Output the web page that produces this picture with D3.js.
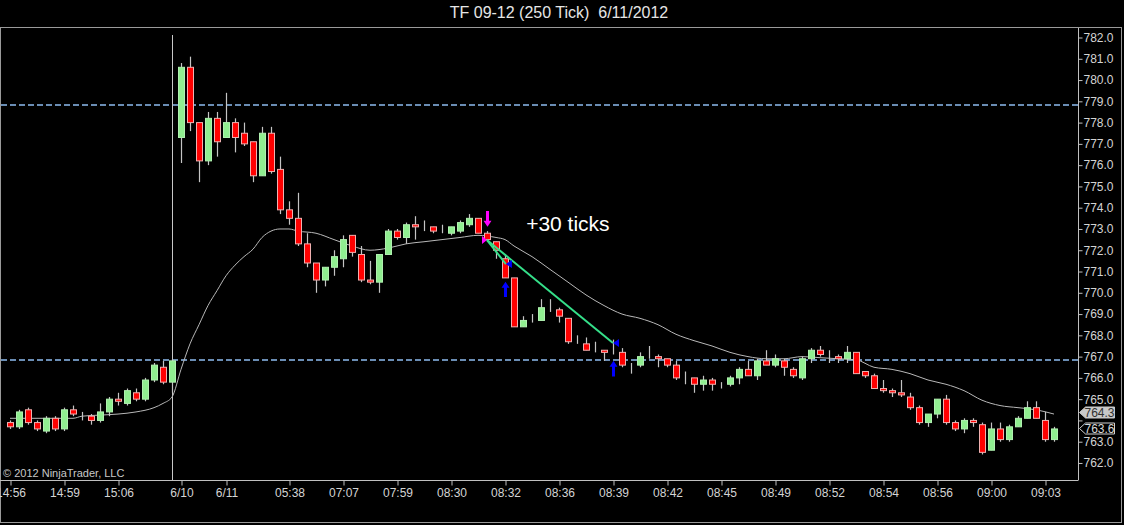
<!DOCTYPE html>
<html><head><meta charset="utf-8">
<script src="https://cdn.jsdelivr.net/npm/d3@7"></script>
<style>html,body{margin:0;padding:0;background:#000;overflow:hidden}
text{font-family:"Liberation Sans",Arial,sans-serif}</style>
</head><body><svg id="c" width="1124" height="525"></svg>
<script>
const title = "TF 09-12 (250 Tick)  6/11/2012";
const copyright = "\u00a9 2012 NinjaTrader, LLC";
const opens  = [763.9,763.7,764.5,763.9,763.5,764.1,763.6,764.5,764.2,764.2,764.0,764.4,765.0,764.8,765.3,765.0,765.9,766.5,765.8,
 777.3,780.6,778.0,776.2,778.2,777.3,778.0,777.5,777.1,775.5,777.5,775.8,773.9,773.5,772.3,771.4,770.6,771.2,771.6,772.7,771.8,
 770.6,770.5,771.8,772.9,772.6,773.2,773.0,773.1,772.9,772.8,772.9,773.2,773.5,772.8,772.4,771.6,770.7,768.4,768.8,768.7,
 769.2,769.2,768.8,767.7,767.6,767.3,767.3,767.4,767.2,766.7,766.6,767.0,767.0,766.9,766.6,766.0,766.0,765.7,765.9,765.7,
 765.7,766.0,766.4,766.1,766.8,766.6,766.8,766.4,766.0,766.9,767.3,767.0,767.0,766.9,767.2,766.3,766.1,765.5,765.4,765.3,
 765.1,764.6,763.9,764.3,765.0,763.9,763.6,764.0,763.8,762.6,763.6,763.1,763.7,764.1,764.6,764.0,763.1];
const highs  = [764.0,764.5,764.6,764.0,764.2,764.2,764.6,764.7,764.4,764.3,764.8,765.1,765.3,765.5,765.5,766.0,766.7,766.8,766.9,
 780.8,781.1,778.0,778.5,778.5,779.4,778.2,778.0,777.1,777.8,777.8,776.4,774.3,774.7,772.8,771.4,771.2,772.0,772.7,772.7,772.2,
 771.5,771.8,773.0,773.0,773.3,773.6,773.4,773.1,773.2,773.1,773.4,773.7,773.5,772.9,772.4,771.8,770.7,768.9,769.0,769.7,
 769.7,769.3,768.8,768.0,767.9,767.7,767.3,767.8,767.4,766.7,767.2,767.5,767.1,766.9,766.8,766.3,766.0,766.1,766.0,765.8,
 766.1,766.5,766.8,766.9,767.3,767.1,766.9,766.5,767.0,767.4,767.5,767.3,767.1,767.5,767.2,766.3,766.2,765.9,765.5,765.9,
 765.3,764.7,764.3,765.0,765.2,764.0,764.1,764.1,763.9,763.9,763.9,763.8,764.2,764.9,764.9,764.4,763.7];
const lows   = [763.6,763.6,763.8,763.5,763.4,763.5,763.5,764.2,764.0,763.8,763.9,764.2,764.7,764.7,764.9,764.9,765.8,765.7,765.3,
 776.1,777.6,775.2,776.0,776.4,777.3,776.6,776.9,775.2,775.5,775.6,773.7,773.2,772.2,771.2,770.0,770.3,770.8,771.2,771.7,770.5,
 770.4,770.0,771.8,772.5,772.3,772.5,772.9,772.8,772.8,772.7,772.8,773.1,772.8,772.4,771.6,770.7,768.4,768.4,768.6,768.7,
 769.1,768.6,767.6,767.6,767.3,767.2,766.8,767.1,766.5,766.2,766.5,766.9,766.5,766.5,765.9,765.7,765.3,765.4,765.4,765.5,
 765.6,765.7,766.1,765.9,766.6,766.5,766.1,766.0,765.9,766.7,767.0,766.7,766.7,766.7,766.2,766.0,765.5,765.3,765.1,765.1,
 764.5,763.8,763.7,764.1,763.8,763.5,763.4,763.7,762.4,762.6,763.0,763.0,763.7,764.1,764.1,763.0,763.0];
const closes = [763.7,764.4,763.9,763.6,764.1,763.6,764.5,764.3,764.2,764.0,764.4,765.0,764.9,765.4,765.0,765.9,766.6,765.8,766.8,
 780.6,778.0,776.2,778.2,777.1,778.0,777.3,777.0,775.5,777.5,775.7,773.9,773.5,772.3,771.4,770.6,771.2,771.7,772.5,771.9,770.6,
 770.5,771.8,772.9,772.6,773.2,773.1,773.0,772.9,772.9,773.1,773.3,773.5,772.8,772.5,772.0,770.7,768.4,768.7,768.8,769.3,
 769.2,768.9,767.7,767.7,767.3,767.3,767.2,767.4,766.6,766.7,767.0,767.0,766.9,766.6,766.0,766.0,765.7,765.9,765.7,765.7,
 766.0,766.4,766.1,766.8,766.6,766.9,766.5,766.1,766.9,767.3,767.1,767.0,766.9,767.2,766.2,766.1,765.5,765.4,765.3,765.2,
 764.6,763.9,764.3,765.0,763.9,763.6,764.0,763.9,762.5,763.6,763.1,763.7,764.1,764.6,764.1,763.1,763.6];
// moving average line (bar index, value)
const maBars = [0,4,7,8,10,12,14,16,17,18,19,20,21,22,23,24,25,26,27,28,29,30,31,32,34,36,38,40,42,44,46,48,50,52,54,55,56,58,60,62,64,66,68,70,72,74,76,78,80,82,84,86,88,90,92,94,96,98,100,102,104,106,108,110,112,114,116];
const maVals = [764.1,764.1,764.1,764.2,764.25,764.3,764.4,764.6,764.8,765.1,766.4,767.6,768.5,769.4,770.1,770.8,771.3,771.7,772.05,772.6,772.9,773.0,773.0,772.9,772.8,772.5,772.2,772.0,772.1,772.3,772.4,772.5,772.6,772.7,772.6,772.5,772.2,771.7,771.1,770.5,769.9,769.4,769.0,768.8,768.5,768.05,767.75,767.5,767.2,767.0,766.9,766.9,767.0,766.95,766.9,766.85,766.5,766.4,766.2,765.9,765.7,765.4,764.95,764.7,764.6,764.5,764.3];
const tickBars = [0,6,12,19,24,31,37,43,49,55,61,67,73,79,85,91,97,103,109,115];
const tickLabels = ["14:56","14:59","15:06","6/10","6/11","05:38","07:07","07:59","08:30","08:32","08:36","08:39","08:42","08:45","08:49","08:52","08:54","08:56","09:00","09:03"];
const priceTicks = [762,763,764,765,766,767,768,769,770,771,772,773,774,775,776,777,778,779,780,781,782];
const levelLines = [778.83, 766.84];
const sessionBreakBar = 18;
// trade markers
const entry = {bar:53, price:772.48};
const exits = [{bar:55.1, price:771.35}, {bar:67, price:767.64}];
const shortArrow = {bar:53, top:773.85, tip:773.1};
const coverArrows = [{bar:55, tip:770.52, bottom:769.8}, {bar:67, tip:766.8, bottom:766.07}];
const note = {text:"+30 ticks", bar:57.35, price:772.9};

const svg = d3.select("#c");
svg.append("rect").attr("width",1124).attr("height",525).attr("fill","#000");
const W = 1078, plotTop = 28, plotBottom = 480;
const x = d3.scaleLinear().domain([0,116]).range([10,1054]);
const y = d3.scaleLinear().domain([761.2, 782.447]).range([plotBottom, plotTop]);

svg.append("text").attr("x",559).attr("y",14).attr("text-anchor","middle").attr("dominant-baseline","middle")
  .style("white-space","pre").attr("fill","#e6e6e6").attr("font-size",16).text(title);

svg.append("rect").attr("x",0.5).attr("y",27.5).attr("width",1121).attr("height",495)
  .attr("fill","none").attr("stroke","#9a9a9a");

const plot = svg.append("g");
plot.selectAll(".lvl").data(levelLines).join("line")
  .attr("x1",1).attr("x2",W).attr("y1",d=>Math.round(y(d))).attr("y2",d=>Math.round(y(d)))
  .attr("stroke","#6a8db4").attr("stroke-width",2).attr("stroke-dasharray","6,3");
plot.append("line").attr("x1",x(sessionBreakBar)+0.5).attr("x2",x(sessionBreakBar)+0.5)
  .attr("y1",plotTop+7).attr("y2",plotBottom).attr("stroke","#c8c8c8").attr("stroke-width",1);

plot.append("path").datum(maBars.map((b,i)=>[b,maVals[i]]))
  .attr("d", d3.line().x(d=>x(d[0])).y(d=>y(d[1])).curve(d3.curveMonotoneX))
  .attr("fill","none").attr("stroke","#b8b8b8").attr("stroke-width",1);

const idx = d3.range(opens.length);
plot.selectAll(".wick").data(idx).join("line")
  .attr("x1",i=>x(i)+0.5).attr("x2",i=>x(i)+0.5).attr("y1",i=>y(highs[i])).attr("y2",i=>y(lows[i]))
  .attr("stroke","#c4c4c4").attr("stroke-width",1.2);
plot.selectAll(".body").data(idx).join("rect")
  .attr("x",i=>x(i)-2.5).attr("width",6)
  .attr("y",i=>y(Math.max(opens[i],closes[i])))
  .attr("height",i=>Math.abs(y(opens[i])-y(closes[i])))
  .attr("fill",i=>closes[i]>opens[i]?"#90ee90":(closes[i]<opens[i]?"#ff0000":"#c4c4c4"))
  .attr("stroke",i=>closes[i]>=opens[i]?"#b0f0b0":"#f0b0b0").attr("stroke-width",1);

exits.forEach(e=>{
  plot.append("line").attr("x1",x(entry.bar)).attr("y1",y(entry.price)).attr("x2",x(e.bar)).attr("y2",y(e.price))
    .attr("stroke","#35e08a").attr("stroke-width",2);
});
{ const ex=x(entry.bar), ey=y(entry.price);
  plot.append("path").attr("d",`M${ex},${ey} L${ex-5},${ey-4} L${ex-5},${ey+4} Z`).attr("fill","#ff00ff"); }
exits.forEach(e=>{ const ex=x(e.bar), ey=y(e.price);
  plot.append("path").attr("d",`M${ex},${ey} L${ex+6},${ey-4} L${ex+6},${ey+4} Z`).attr("fill","#0000ff"); });
{ const ax=x(shortArrow.bar)+0.5, t=y(shortArrow.top), tip=y(shortArrow.tip);
  plot.append("path").attr("d",`M${ax-1.5},${t} L${ax+1.5},${t} L${ax+1.5},${tip-6} L${ax+4},${tip-6} L${ax},${tip} L${ax-4},${tip-6} L${ax-1.5},${tip-6} Z`)
   .attr("fill","#ff00ff"); }
coverArrows.forEach(a=>{ const ax=x(a.bar)+0.5, tip=y(a.tip), b=y(a.bottom);
  plot.append("path").attr("d",`M${ax-1.5},${b} L${ax+1.5},${b} L${ax+1.5},${tip+6} L${ax+4},${tip+6} L${ax},${tip} L${ax-4},${tip+6} L${ax-1.5},${tip+6} Z`)
   .attr("fill","#0000ff"); });

plot.append("text").attr("x",x(note.bar)).attr("y",y(note.price)).attr("fill","#ffffff")
  .attr("font-size",21).text(note.text);

const tags = [{v:maVals[maVals.length-1], shift:-2, fill:"#c8c8c8", stroke:"#c8c8c8", text:"#303030"},
              {v:closes[closes.length-1], shift:-1, fill:"#000", stroke:"#d0d0d0", text:"#d8d8d8"}];

const yAxis = d3.axisRight(y).tickValues(priceTicks).tickFormat(d3.format(".1f")).tickSize(4).tickPadding(1);
const ga = svg.append("g").attr("transform",`translate(${W+0.5},0)`).call(yAxis);
ga.select(".domain").attr("d",`M0,${plotTop}V${plotBottom}`).attr("stroke","#c0c0c0");
ga.selectAll("line").attr("stroke","#c0c0c0");
ga.selectAll("text").attr("fill","#d4d4d4").attr("font-size",12).attr("font-family","Liberation Sans, Arial, sans-serif")
  .style("display", d => tags.some(t => Math.abs(y(d) - y(t.v)) < 10) ? "none" : null);

const xAxis = d3.axisBottom(x).tickValues(tickBars).tickFormat((d,i)=>tickLabels[i]).tickSize(5).tickPadding(3);
const gb = svg.append("g").attr("transform",`translate(0.5,${plotBottom+0.5})`).call(xAxis);
gb.select(".domain").attr("d",`M-1,0H${W}`).attr("stroke","#c0c0c0");
gb.selectAll("line").attr("stroke","#c0c0c0");
gb.selectAll("text").attr("fill","#d4d4d4").attr("font-size",12).attr("font-family","Liberation Sans, Arial, sans-serif");

tags.forEach(t=>{ const cy=Math.round(y(t.v))+0.5+t.shift, l=W+1.5;
  svg.append("path").attr("d",`M${l},${cy} L${l+6},${cy-5.5} L${l+35},${cy-5.5} L${l+35},${cy+5.5} L${l+6},${cy+5.5} Z`)
    .attr("fill",t.fill).attr("stroke",t.stroke);
  svg.append("text").attr("x",l+5).attr("y",cy+0.5).attr("dominant-baseline","central").attr("fill",t.text)
    .attr("font-size",12).text(d3.format(".1f")(t.v));
});

svg.append("text").attr("x",3).attr("y",477).attr("fill","#c8c8c8").attr("font-size",11).text(copyright);
</script></body></html>
